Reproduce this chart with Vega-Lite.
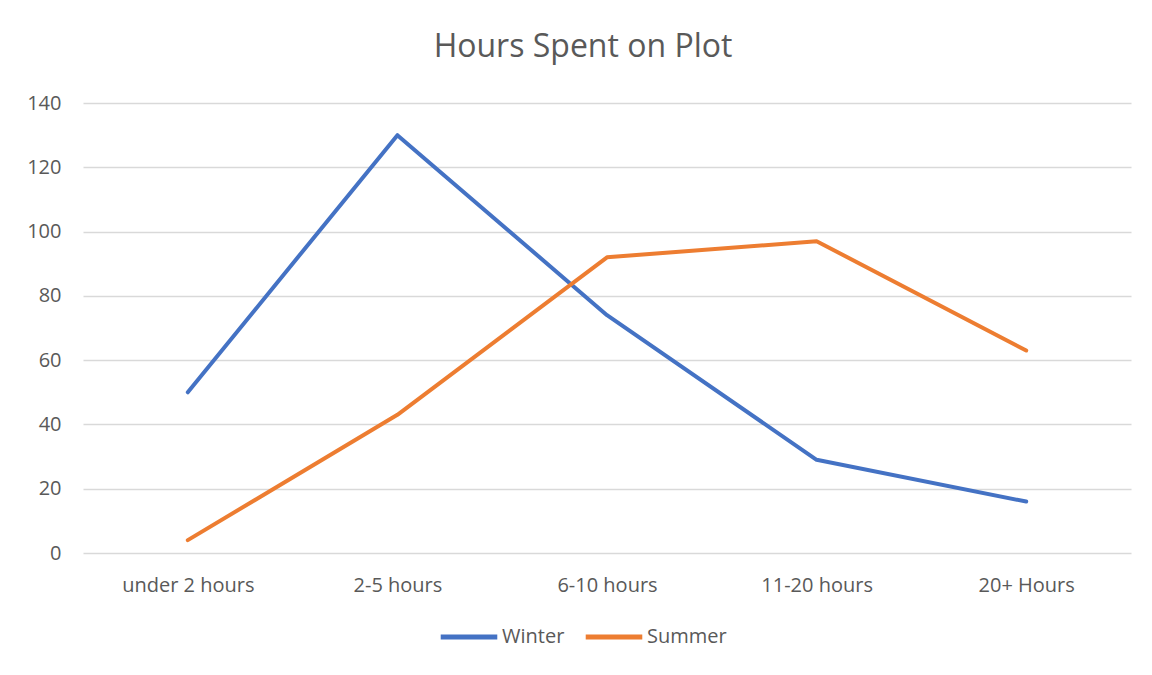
{
  "$schema": "https://vega.github.io/schema/vega-lite/v6.json",
  "autosize": "none",
  "width": 1048,
  "height": 450,
  "padding": {"left": 83, "top": 103, "right": 21, "bottom": 122},
  "background": "#ffffff",
  "title": {
    "text": "Hours Spent on Plot",
    "font": "Open Sans",
    "fontSize": 32,
    "fontWeight": "normal",
    "color": "#595959",
    "anchor": "middle",
    "dx": -24,
    "offset": 29
  },
  "data": {
    "values": [
      {"cat": "under 2 hours", "series": "Winter", "value": 50},
      {"cat": "2-5 hours", "series": "Winter", "value": 130},
      {"cat": "6-10 hours", "series": "Winter", "value": 74},
      {"cat": "11-20 hours", "series": "Winter", "value": 29},
      {"cat": "20+ Hours", "series": "Winter", "value": 16},
      {"cat": "under 2 hours", "series": "Summer", "value": 4},
      {"cat": "2-5 hours", "series": "Summer", "value": 43},
      {"cat": "6-10 hours", "series": "Summer", "value": 92},
      {"cat": "11-20 hours", "series": "Summer", "value": 97},
      {"cat": "20+ Hours", "series": "Summer", "value": 63}
    ]
  },
  "mark": {"type": "line", "strokeWidth": 4, "strokeCap": "round", "strokeJoin": "round"},
  "encoding": {
    "x": {
      "field": "cat",
      "type": "ordinal",
      "sort": ["under 2 hours", "2-5 hours", "6-10 hours", "11-20 hours", "20+ Hours"],
      "scale": {"type": "point", "padding": 0.5},
      "axis": {
        "title": null,
        "labelAngle": 0,
        "labelFont": "Open Sans",
        "labelFontSize": 20,
        "labelColor": "#595959",
        "labelPadding": 22,
        "ticks": false,
        "domain": false,
        "grid": false
      }
    },
    "y": {
      "field": "value",
      "type": "quantitative",
      "scale": {"domain": [0, 140]},
      "axis": {
        "title": null,
        "values": [0, 20, 40, 60, 80, 100, 120, 140],
        "labelFont": "Open Sans",
        "labelFontSize": 20,
        "labelColor": "#595959",
        "labelPadding": 22,
        "ticks": false,
        "domain": false,
        "grid": true,
        "gridColor": "#d9d9d9",
        "gridWidth": 1.5
      }
    },
    "color": {
      "field": "series",
      "type": "nominal",
      "sort": ["Winter", "Summer"],
      "scale": {"domain": ["Winter", "Summer"], "range": ["#4472C4", "#ED7D31"]},
      "legend": {
        "title": null,
        "orient": "none",
        "direction": "horizontal",
        "legendX": 355,
        "legendY": 503,
        "symbolType": "stroke",
        "symbolSize": 3200,
        "symbolStrokeWidth": 5,
        "labelFont": "Open Sans",
        "labelFontSize": 20,
        "labelColor": "#595959",
        "labelOffset": 2,
        "columnPadding": 10
      }
    }
  },
  "config": {"view": {"stroke": null}}
}
